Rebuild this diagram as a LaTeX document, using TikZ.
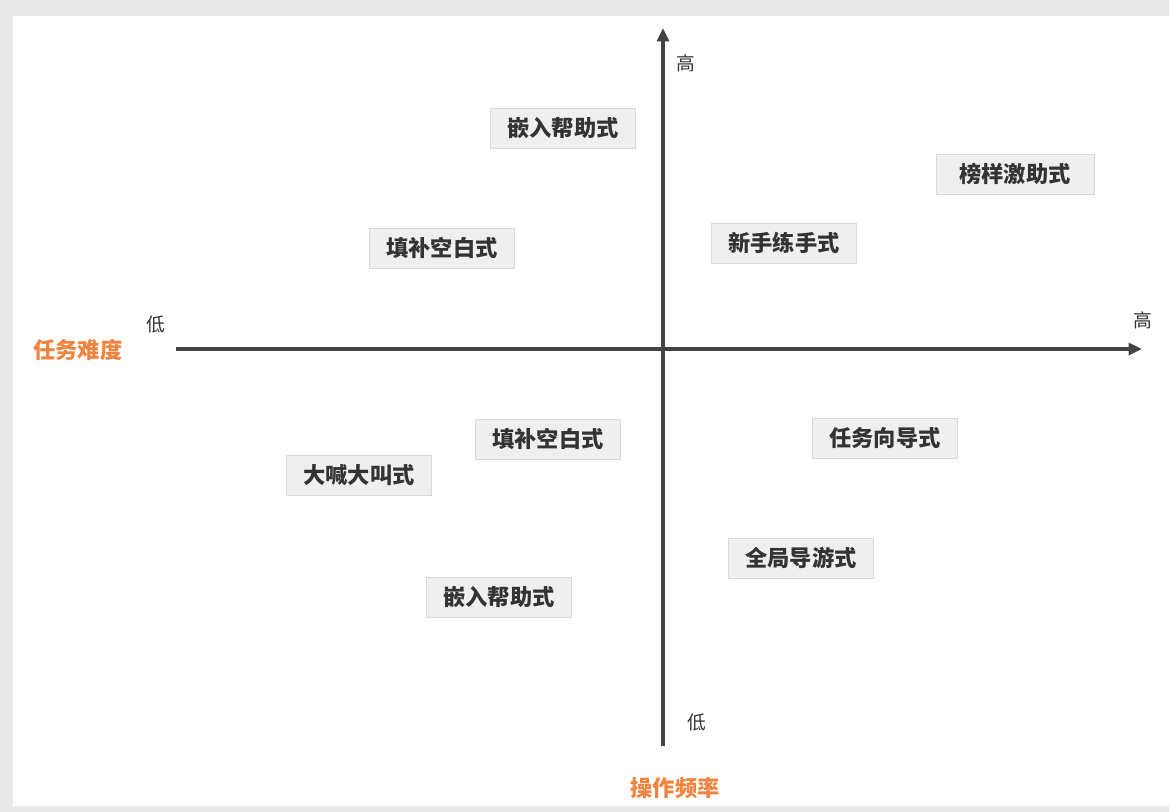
\documentclass[tikz,border=0pt]{standalone}
\usepackage{fontspec}
\newfontfamily\cjk{Noto Sans CJK SC}
\usetikzlibrary{arrows.meta}
\definecolor{bgout}{HTML}{E9E9E9}
\definecolor{boxfill}{HTML}{EFEFEF}
\definecolor{boxline}{HTML}{D9D9D9}
\definecolor{txt}{HTML}{333333}
\definecolor{axis}{HTML}{444444}
\definecolor{orng}{HTML}{F0843F}
\tikzset{
  tag/.style={draw=boxline, fill=boxfill, line width=0.8pt, minimum width=4.35cm, minimum height=1.2cm, inner sep=0pt, text=txt, font=\cjk\bfseries\fontsize{19}{21}\selectfont},
  axisline/.style={draw=axis, line width=2.7pt, -{Triangle[length=4mm,width=3.6mm]}},
  lvl/.style={text=txt, font=\cjk\fontsize{16}{18}\selectfont, inner sep=0pt},
  axtitle/.style={text=orng, font=\cjk\bfseries\fontsize{19}{21}\selectfont, inner sep=0pt}
}
\begin{document}
\begin{tikzpicture}[x=0.03cm, y=-0.03cm]
\fill[bgout] (0,0) rectangle (1169,812);
\fill[white] (13,16) rectangle (1169,806);
\useasboundingbox (0,0) rectangle (1169,812);
% axes
\coordinate (xs) at (176,349);
\coordinate (xe) at (1142,349);
\coordinate (ys) at (663,746);
\coordinate (ye) at (663,28);
\draw[axisline] (xs) -- (xe);
\draw[axisline] (ys) -- (ye);
% level labels
\node[lvl] (ytop) at (686,63) {高};
\node[lvl] (xright) at (1143,320) {高};
\node[lvl] (xleft) at (156,324) {低};
\node[lvl] (ybot) at (697,722) {低};
\node[axtitle] (xt) at (78,350) {任务难度};
\node[axtitle] (yt) at (675,788) {操作频率};
% boxes
\node[tag] (b1) at (563,128) {嵌入帮助式};
\node[tag, minimum width=4.74cm] (b2) at (1015,174) {榜样激助式};
\node[tag] (b3) at (442,248) {填补空白式};
\node[tag] (b4) at (784,243) {新手练手式};
\node[tag] (b5) at (548,439) {填补空白式};
\node[tag] (b6) at (885,438) {任务向导式};
\node[tag] (b7) at (359,475) {大喊大叫式};
\node[tag] (b8) at (801,558) {全局导游式};
\node[tag] (b9) at (499,597) {嵌入帮助式};
\end{tikzpicture}
\end{document}
